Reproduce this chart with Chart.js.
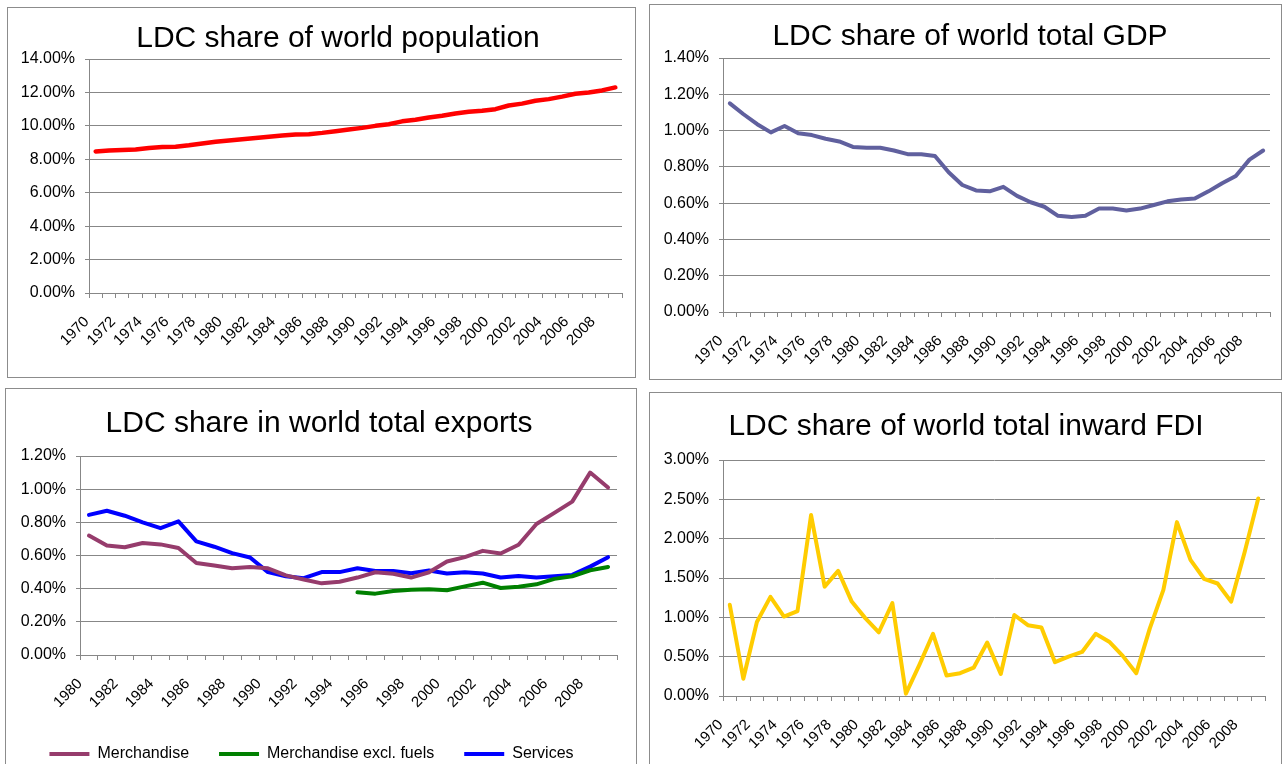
<!DOCTYPE html>
<html>
<head>
<meta charset="utf-8">
<script src="https://cdn.jsdelivr.net/npm/chart.js@4.4.1/dist/chart.umd.min.js"></script>
<style>
  body{margin:0;width:1284px;height:764px;overflow:hidden;background:#fff;font-family:"Liberation Sans",Arial,sans-serif;}
  .box{position:absolute;box-sizing:border-box;border:1px solid #8c8c8c;background:#fff;}
  .box canvas{position:absolute;left:0;top:0;}
  .title{position:absolute;width:600px;text-align:center;font-size:30px;line-height:30px;color:#000;white-space:nowrap;}
</style>
</head>
<body>
<div class="box" style="left:7px;top:7px;width:629px;height:371px;"><canvas id="pop" width="627" height="369"></canvas></div>
<div class="box" style="left:649px;top:4px;width:633px;height:376px;"><canvas id="gdp" width="631" height="374"></canvas></div>
<div class="box" style="left:5px;top:388px;width:632px;height:385px;"><canvas id="exp" width="630" height="383"></canvas></div>
<div class="box" style="left:649px;top:392px;width:633px;height:400px;"><canvas id="fdi" width="631" height="398"></canvas></div>

<div class="title" style="left:38px;top:22px;">LDC share of world population</div>
<div class="title" style="left:670px;top:20px;">LDC share of world total GDP</div>
<div class="title" style="left:19px;top:407px;">LDC share in world total exports</div>
<div class="title" style="left:666px;top:410px;">LDC share of world total inward FDI</div>

<script>
// categories
const years70 = ["1970","1971","1972","1973","1974","1975","1976","1977","1978","1979",
                 "1980","1981","1982","1983","1984","1985","1986","1987","1988","1989",
                 "1990","1991","1992","1993","1994","1995","1996","1997","1998","1999",
                 "2000","2001","2002","2003","2004","2005","2006","2007","2008","2009"];
const years80 = ["1980","1981","1982","1983","1984","1985","1986","1987","1988","1989",
                 "1990","1991","1992","1993","1994","1995","1996","1997","1998","1999",
                 "2000","2001","2002","2003","2004","2005","2006","2007","2008","2009"];

// values in percent
const popShare = [8.47,8.52,8.55,8.58,8.68,8.73,8.75,8.84,8.95,9.05,
                  9.13,9.20,9.28,9.35,9.42,9.48,9.50,9.58,9.68,9.78,
                  9.88,10.00,10.10,10.27,10.37,10.50,10.60,10.74,10.84,10.91,
                  11.00,11.22,11.33,11.50,11.60,11.75,11.92,12.00,12.12,12.30];

const gdpShare = [1.15,1.09,1.035,0.99,1.025,0.985,0.975,0.955,0.94,0.91,
                  0.905,0.905,0.89,0.87,0.87,0.86,0.77,0.70,0.67,0.665,
                  0.69,0.64,0.605,0.58,0.53,0.523,0.53,0.57,0.57,0.56,
                  0.57,0.59,0.61,0.62,0.625,0.665,0.71,0.75,0.84,0.89];

const merchandise = [0.72,0.66,0.65,0.675,0.667,0.645,0.555,0.54,0.523,0.531,
                     0.523,0.48,0.455,0.432,0.442,0.467,0.499,0.49,0.467,0.499,
                     0.564,0.59,0.628,0.612,0.665,0.79,0.857,0.925,1.10,1.01];
const merchExFuels = [null,null,null,null,null,null,null,null,null,null,
                      null,null,null,null,null,0.378,0.370,0.386,0.394,0.396,
                      0.390,0.414,0.436,0.404,0.412,0.426,0.459,0.475,0.511,0.531];
const services = [0.845,0.87,0.84,0.80,0.765,0.806,0.685,0.653,0.614,0.588,
                  0.50,0.475,0.463,0.50,0.50,0.523,0.507,0.507,0.493,0.509,
                  0.491,0.499,0.491,0.467,0.477,0.467,0.475,0.483,0.533,0.59];

const fdiShare = [1.16,0.22,0.94,1.26,1.01,1.08,2.30,1.39,1.59,1.20,
                  0.99,0.81,1.18,0.03,0.40,0.79,0.26,0.29,0.36,0.68,
                  0.28,1.03,0.90,0.87,0.43,0.50,0.56,0.79,0.69,0.51,
                  0.29,0.86,1.35,2.21,1.73,1.49,1.43,1.20,1.83,2.51];

Chart.defaults.font.family = '"Liberation Sans", Arial, sans-serif';
Chart.defaults.color = "#000";

const GRID = "#878787";

function line(label, data, color, width){
  return {label, data, borderColor:color, backgroundColor:color, borderWidth:width,
          pointRadius:0, tension:0, borderJoinStyle:"round", borderCapStyle:"round", spanGaps:false};
}

function makeChart(id, labels, datasets, o){
  return new Chart(document.getElementById(id), {
    type:"line",
    data:{labels, datasets},
    options:{
      responsive:false, animation:false, devicePixelRatio:1,
      layout:{padding:o.padding},
      plugins:{
        legend: o.legend || {display:false},
        tooltip:{enabled:false}
      },
      scales:{
        x:{
          offset:true,
          grid:{offset:true, drawOnChartArea:false, drawTicks:true, tickLength:5, color:GRID},
          border:{color:GRID},
          ticks:{autoSkip:false, minRotation:45, maxRotation:45, padding:15, labelOffset:-9,
                 font:{size:15},
                 callback:function(v,i){ return i % 2 === 0 ? this.getLabelForValue(v) : ""; }},
          // fixed axis band, and no extra side room for the rotated labels
          afterFit:s=>{ s.height = o.xH; s.paddingLeft = 0; s.paddingRight = 0; }
        },
        y:{
          min:0, max:o.max,
          grid:{color:GRID, tickLength:4, drawTicks:true},
          border:{color:GRID},
          ticks:{stepSize:o.step, padding:10, font:{size:16},
                 callback:v=>v.toFixed(2)+"%"},
          afterFit:s=>{ s.width = o.yW; }
        }
      }
    }
  });
}

makeChart("pop", years70, [line("Population", popShare, "#ff0000", 4.5)],
  {max:14, step:2, yW:81, xH:60, padding:{top:51, right:13, bottom:24, left:0}});

makeChart("gdp", years70, [line("GDP", gdpShare, "#60609e", 4)],
  {max:1.4, step:0.2, yW:73, xH:60, padding:{top:53, right:11, bottom:7, left:0}});

makeChart("exp", years80, [
    line("Merchandise", merchandise, "#963c6c", 4),
    line("Merchandise excl. fuels", merchExFuels, "#008000", 4),
    line("Services", services, "#0000ff", 4)
  ],
  {max:1.2, step:0.2, yW:74, xH:61, padding:{top:67, right:19, bottom:0, left:0},
   legend:{display:true, position:"bottom",
     labels:{usePointStyle:true, pointStyle:"line", pointStyleWidth:40, padding:30,
             color:"#000", font:{size:16}}}});

makeChart("fdi", years70, [line("FDI", fdiShare, "#ffcc00", 4)],
  {max:3, step:0.5, yW:73, xH:60, padding:{top:67, right:16, bottom:35, left:0}});
</script>
</body>
</html>
